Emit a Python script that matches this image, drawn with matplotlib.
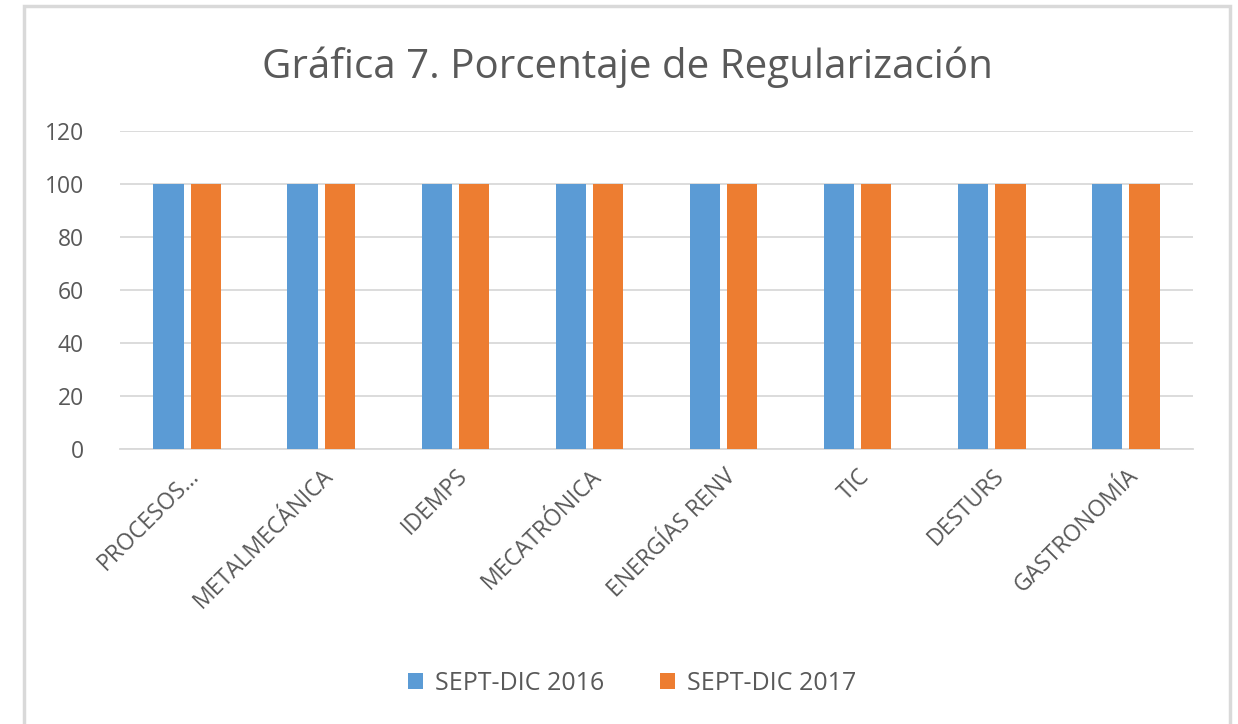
import matplotlib.pyplot as plt
import numpy as np
from matplotlib.patches import Rectangle

categorias = ["PROCESOS...", "METALMECÁNICA", "IDEMPS", "MECATRÓNICA",
              "ENERGÍAS RENV", "TIC", "DESTURS", "GASTRONOMÍA"]
serie_2016 = [100, 100, 100, 100, 100, 100, 100, 100]
serie_2017 = [100, 100, 100, 100, 100, 100, 100, 100]
nombres = ["SEPT-DIC 2016", "SEPT-DIC 2017"]
ticks_y = [0, 20, 40, 60, 80, 100, 120]

plt.rcParams['font.family'] = ['Open Sans', 'DejaVu Sans']
gris = '#595959'

fig = plt.figure(figsize=(12.38, 7.24), dpi=100)
# marco del grafico
fig.patches.append(Rectangle((24 / 1238, -0.1), (1230 - 24) / 1238, 1.1 - 6 / 724,
                             transform=fig.transFigure, fill=False,
                             edgecolor='#d9d9d9', linewidth=2.5))

ax = fig.add_axes([120 / 1238, 1 - 449 / 724, (1193 - 120) / 1238, (449 - 131) / 724])
x = np.arange(len(categorias))
ancho = 0.225
ax.bar(x - 0.139, serie_2016, ancho, color='#5b9bd5', label=nombres[0], zorder=3)
ax.bar(x + 0.139, serie_2017, ancho, color='#ed7d31', label=nombres[1], zorder=3)

ax.set_xlim(-0.5, len(categorias) - 0.5)
ax.set_ylim(0, 120)
ax.set_yticks(ticks_y)
ax.yaxis.grid(True, color='#d9d9d9', linewidth=1.3, zorder=0)
for s in ['top', 'right', 'left']:
    ax.spines[s].set_visible(False)
ax.spines['bottom'].set_color('#d9d9d9')
ax.spines['bottom'].set_linewidth(1.3)
ax.tick_params(axis='both', length=0, colors=gris)
ax.tick_params(axis='y', pad=26, labelsize=16.5)
ax.set_xticks(x)
ax.set_xticklabels(categorias, rotation=45, ha='right', rotation_mode='anchor',
                   fontsize=16.5)
ax.tick_params(axis='x', pad=11)

fig.text(627 / 1238, 1 - 67 / 724, "Gráfica 7. Porcentaje de Regularización",
         ha='center', va='center', fontsize=29, color=gris)

ax.legend(loc='center', bbox_to_anchor=(632 / 1238, 1 - 683 / 724),
          bbox_transform=fig.transFigure, ncol=2, frameon=False,
          fontsize=18, labelcolor=gris, handlelength=0.6, handleheight=0.6,
          columnspacing=2.2, handletextpad=0.5)

fig.savefig('out.png', dpi=100)
